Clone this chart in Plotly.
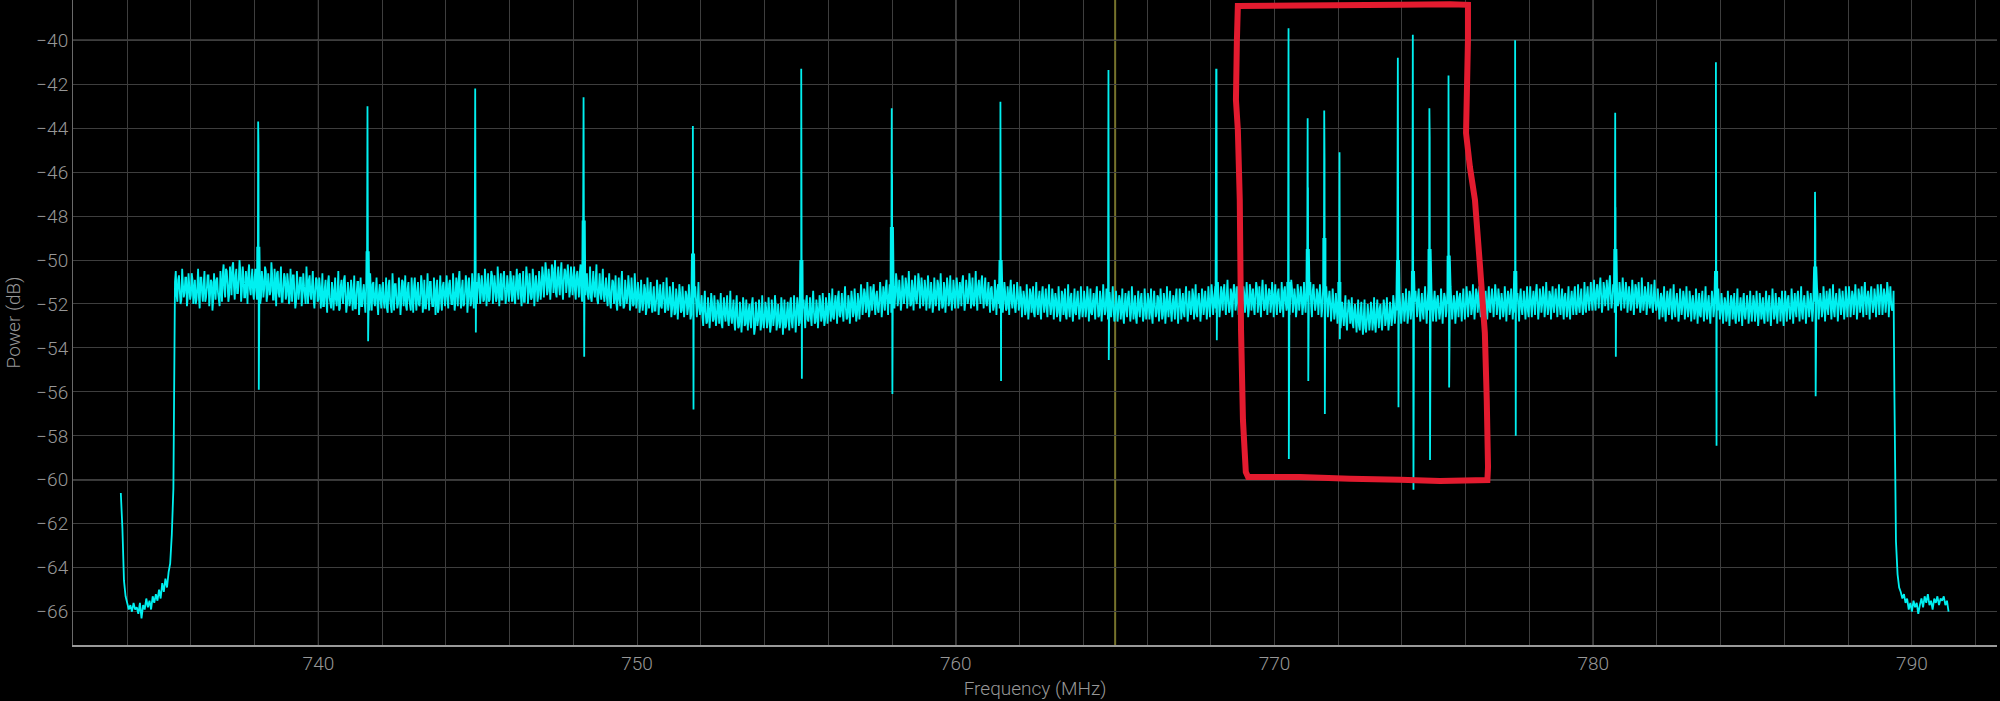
import plotly.graph_objects as go

# ---------------- data ----------------
skirt_step = 0.05
left_skirt_start = 733.80
left_skirt_db = [-60.6, -62.2, -64.6, -65.3, -65.6, -65.9, -65.7, -66.0, -65.6, -65.9,
                 -65.8, -66.1, -65.6, -66.3, -65.7, -65.9, -65.4, -65.8, -65.5, -65.9,
                 -65.3, -65.6, -65.2, -65.5, -65.0, -65.4, -64.7, -65.1, -64.5, -64.9,
                 -64.2, -63.8, -62.5, -60.4]

right_skirt_start = 789.45
right_skirt_db = [-56.0, -62.8, -64.3, -64.9, -65.1, -65.4, -65.2, -65.6, -65.4, -65.9,
                  -65.6, -66.0, -65.5, -65.8, -65.6, -66.1, -65.7, -65.4, -65.8, -65.3,
                  -65.6, -65.2, -65.7, -65.5, -65.9, -65.4, -65.6, -65.3, -65.7, -65.4,
                  -65.5, -65.3, -65.7, -65.5, -66.0]

# in-band noise, one value every 0.05 MHz from 735.50 MHz
band_start = 735.50
band_step = 0.05
band_db = [
    -51.0, -51.6, -50.9, -51.4, -51.8, -51.1, -51.5, -50.8, -51.7, -51.2,
    -51.6, -50.9, -51.4, -52.0, -51.2, -51.7, -50.8, -51.5, -51.1, -51.9, -51.3, -50.7, -51.6, -51.0, -51.8, -51.2, -50.9, -51.5, -52.1, -51.3,
    -50.6, -51.3, -50.4, -51.1, -51.6, -50.8, -50.3, -51.2, -50.7, -51.5, -50.9, -50.5, -51.4, -50.8, -51.7, -51.0, -50.6, -51.3, -50.9, -51.5,
    -50.8, -51.4, -50.6, -51.2, -51.7, -50.9, -51.3, -50.5, -51.6, -51.0, -51.4, -50.7, -51.8, -51.1, -50.6, -51.5, -51.0, -51.9, -51.2, -50.8,
    -51.6, -51.0, -51.8, -51.2, -50.7, -51.5, -51.9, -51.1, -51.4, -50.8, -51.7, -51.2, -52.0, -51.3, -50.9, -51.6, -51.1, -51.8, -51.4, -50.9,
    -51.8, -51.2, -51.6, -52.1, -51.3, -51.9, -51.0, -51.7, -52.2, -51.4, -51.1, -51.8, -51.5, -52.3, -51.2, -51.7, -50.9, -51.6, -52.0, -51.4,
    -51.9, -51.3, -51.7, -52.2, -51.5, -51.0, -51.8, -52.1, -51.4, -51.9, -51.2, -51.7, -52.3, -51.6, -51.1, -51.9, -51.4, -52.0, -51.5, -51.8,
    -51.3, -51.9, -51.6, -52.2, -51.2, -51.8, -52.4, -51.5, -51.1, -51.7, -52.0, -51.4, -51.9, -51.0, -51.6, -52.1, -51.3, -51.8, -52.3, -51.5,
    -51.2, -51.8, -51.4, -52.0, -51.6, -51.1, -51.9, -52.2, -51.5, -51.7, -51.0, -51.8, -52.1, -51.3, -51.6, -52.4, -51.4, -51.9, -51.2, -51.7,
    -51.3, -51.8, -51.1, -51.6, -52.0, -51.4, -51.9, -51.2, -50.9, -51.7, -51.3, -52.1, -51.5, -51.0, -51.8, -51.4, -51.9, -51.2, -51.6, -51.1,
    -51.5, -50.9, -51.6, -51.2, -51.8, -51.0, -51.4, -51.9, -51.1, -50.7, -51.5, -51.2, -51.7, -51.0, -51.4, -51.8, -50.8, -51.3, -51.6, -51.1,
    -51.5, -50.9, -51.3, -51.8, -51.0, -51.4, -50.7, -51.6, -51.2, -51.9, -51.1, -50.8, -51.5, -51.3, -51.7, -50.9, -51.4, -51.1, -51.6, -51.0,
    -51.3, -50.7, -51.1, -50.5, -51.4, -50.9, -51.2, -50.4, -51.0, -51.5, -50.8, -51.2, -50.6, -51.3, -50.9, -50.5, -51.1, -50.7, -51.4, -50.8,
    -50.9, -51.4, -50.7, -51.2, -50.6, -51.5, -51.0, -51.3, -50.8, -51.6, -51.2, -51.7, -51.1, -51.4, -50.9, -51.8, -51.3, -51.5, -51.0, -51.6,
    -51.3, -51.7, -51.2, -51.9, -51.4, -51.0, -51.6, -52.0, -51.5, -51.8, -51.1, -51.7, -52.1, -51.4, -51.6, -51.2, -51.9, -51.5, -52.0, -51.3,
    -51.8, -51.4, -52.1, -51.6, -51.9, -51.3, -52.2, -51.7, -51.5, -52.0, -51.6, -52.3, -51.8, -51.4, -51.9, -52.1, -51.5, -51.8, -52.2, -51.7,
    -52.0, -51.6, -52.2, -51.8, -52.4, -51.7, -52.1, -51.5, -52.3, -51.9, -52.0, -51.6, -52.2, -51.8, -52.5, -52.0, -51.7, -52.3, -51.9, -52.2,
    -52.1, -52.6, -52.0, -52.4, -52.8, -52.2, -52.5, -51.9, -52.7, -52.3, -52.6, -52.0, -52.4, -52.9, -52.2, -52.5, -52.1, -52.7, -52.3, -52.6,
    -52.3, -52.8, -52.2, -52.6, -53.0, -52.4, -52.7, -52.1, -52.9, -52.5, -52.3, -52.8, -52.0, -52.6, -53.1, -52.4, -52.7, -52.2, -52.9, -52.5,
    -52.7, -52.2, -52.8, -52.4, -53.0, -52.3, -52.6, -52.1, -52.9, -52.5, -52.8, -52.2, -52.6, -53.1, -52.4, -52.7, -52.0, -52.8, -52.5, -52.3,
    -52.6, -52.1, -52.5, -52.9, -52.2, -52.4, -51.9, -52.7, -52.3, -52.6, -52.0, -52.4, -52.8, -52.2, -52.5, -51.9, -52.6, -52.3, -52.7, -52.1,
    -52.4, -51.9, -52.3, -52.6, -52.0, -52.2, -51.7, -52.5, -52.1, -52.4, -51.8, -52.2, -52.6, -51.9, -52.3, -51.8, -52.4, -52.0, -52.5, -51.9,
    -52.1, -51.6, -52.0, -51.5, -52.2, -51.8, -52.3, -51.7, -51.4, -52.0, -51.6, -52.2, -51.9, -51.5, -52.1, -51.7, -51.3, -51.9, -51.6, -52.0,
    -51.7, -51.2, -51.6, -51.0, -51.8, -51.4, -51.9, -51.3, -51.6, -51.1, -51.7, -51.4, -52.0, -51.5, -51.2, -51.8, -51.4, -51.0, -51.6, -51.3,
    -51.8, -51.3, -51.7, -51.2, -51.9, -51.5, -52.0, -51.4, -51.7, -51.1, -51.8, -51.6, -52.1, -51.3, -51.7, -51.2, -51.9, -51.5, -51.8, -51.4,
    -51.7, -51.2, -51.8, -51.4, -51.0, -51.6, -51.9, -51.3, -51.7, -51.1, -51.5, -52.0, -51.4, -51.8, -51.2, -51.6, -51.0, -51.7, -51.3, -51.9,
    -51.5, -51.9, -51.3, -51.8, -52.1, -51.6, -51.4, -52.0, -51.7, -51.2, -51.9, -51.5, -52.2, -51.7, -51.4, -51.9, -51.6, -52.1, -51.8, -51.5,
    -52.1, -51.6, -52.0, -51.7, -52.3, -51.8, -52.2, -51.5, -51.9, -52.4, -51.7, -52.1, -51.8, -52.3, -51.6, -52.0, -51.8, -52.2, -51.7, -52.0,
    -52.2, -51.7, -52.1, -51.8, -52.4, -52.0, -52.3, -51.6, -52.1, -52.5, -51.9, -52.2, -51.7, -52.3, -52.0, -52.4, -51.8, -52.1, -52.3, -51.9,
    -52.3, -51.8, -52.2, -51.7, -52.1, -52.4, -51.9, -52.2, -51.6, -52.0, -52.5, -51.8, -52.2, -51.9, -52.3, -51.7, -52.1, -52.4, -51.9, -52.2,
    -52.4, -51.9, -52.3, -51.8, -52.2, -52.5, -52.0, -52.3, -51.7, -52.1, -52.4, -51.9, -52.2, -52.6, -52.0, -52.3, -51.8, -52.2, -52.5, -52.0,
    -52.3, -51.8, -52.2, -52.5, -51.9, -52.1, -52.4, -51.7, -52.2, -52.0, -52.5, -51.8, -52.3, -52.1, -51.9, -52.4, -52.0, -52.2, -51.7, -52.3,
    -52.2, -51.8, -52.1, -52.4, -51.7, -52.0, -52.3, -51.9, -52.2, -51.6, -52.1, -52.4, -51.8, -52.0, -52.3, -51.7, -52.1, -51.9, -52.2, -51.8,
    -52.0, -51.6, -51.9, -52.2, -51.5, -51.8, -52.1, -51.7, -51.4, -52.0, -51.6, -51.9, -52.2, -51.5, -51.8, -51.3, -52.0, -51.7, -52.1, -51.6,
    -51.9, -51.5, -52.0, -51.7, -52.2, -51.4, -51.8, -52.1, -51.6, -51.3, -51.9, -52.0, -51.5, -51.8, -52.2, -51.6, -51.9, -51.4, -52.0, -51.7,
    -51.6, -52.0, -51.5, -51.9, -52.2, -51.7, -51.4, -51.9, -52.1, -51.6, -51.8, -51.3, -52.0, -51.7, -52.2, -51.5, -51.9, -51.6, -52.1, -51.8,
    -51.5, -51.9, -51.6, -52.1, -51.4, -51.8, -52.0, -51.5, -51.9, -51.7, -52.2, -51.6, -51.9, -52.3, -51.8, -52.0, -52.2, -51.9, -52.4, -52.1,
    -52.3, -52.7, -52.1, -52.5, -52.2, -52.8, -52.4, -52.0, -52.6, -52.9, -52.3, -52.7, -52.5, -53.0, -52.4, -52.8, -52.6, -53.1, -52.7, -52.5,
    -52.8, -52.3, -52.7, -52.9, -52.4, -52.6, -52.2, -52.8, -52.5, -52.1, -52.7, -52.4, -52.8, -52.3, -52.6, -52.0, -52.5, -52.3, -52.6, -52.2,
    -52.4, -51.9, -52.3, -52.0, -52.5, -51.8, -52.2, -52.4, -51.9, -52.1, -51.7, -52.3, -52.0, -52.4, -51.8, -52.2, -51.9, -52.3, -52.0, -52.4,
    -51.9, -52.3, -51.8, -52.2, -52.4, -51.9, -52.1, -51.7, -52.3, -52.0, -52.4, -51.8, -52.2, -51.9, -52.3, -52.0, -51.7, -52.2, -51.9, -52.1,
    -52.1, -51.7, -52.0, -51.6, -52.2, -51.8, -52.1, -51.5, -51.9, -52.2, -51.7, -52.0, -51.6, -52.1, -51.8, -52.3, -51.7, -52.0, -51.8, -51.6,
    -52.1, -51.7, -52.2, -51.9, -52.3, -51.8, -52.0, -51.6, -52.2, -51.9, -52.1, -52.4, -51.8, -52.0, -51.7, -52.2, -51.9, -52.1, -51.8, -52.3,
    -51.7, -52.1, -51.8, -52.0, -51.5, -51.9, -52.2, -51.7, -52.0, -51.6, -52.1, -51.8, -52.2, -51.6, -51.9, -52.1, -51.7, -52.0, -51.8, -52.1,
    -51.8, -52.2, -51.7, -52.1, -51.9, -52.3, -51.8, -52.0, -51.6, -52.2, -51.9, -52.1, -51.7, -52.0, -52.2, -51.8, -51.6, -51.9, -51.7, -51.8,
    -51.5, -51.9, -51.4, -51.7, -51.2, -51.6, -51.9, -51.3, -51.7, -51.5, -51.1, -51.6, -51.8, -51.3, -51.7, -51.4, -51.9, -51.5, -51.7, -51.4,
    -51.8, -51.4, -51.9, -51.6, -52.0, -51.5, -51.8, -51.3, -51.9, -51.7, -52.1, -51.6, -51.9, -51.5, -52.0, -51.7, -51.8, -52.1, -51.6, -51.9,
    -52.1, -51.8, -52.2, -51.7, -52.0, -52.3, -51.9, -52.1, -51.6, -52.2, -51.9, -52.3, -51.8, -52.0, -52.4, -51.9, -52.1, -51.7, -52.2, -52.0,
    -52.3, -51.8, -52.2, -52.0, -52.4, -51.9, -52.1, -52.5, -51.8, -52.2, -52.0, -52.3, -51.9, -52.4, -52.1, -51.8, -52.2, -52.0, -52.3, -51.9,
    -52.4, -52.0, -52.3, -51.9, -52.5, -52.1, -52.3, -51.8, -52.2, -52.6, -52.0, -52.4, -52.1, -52.3, -51.9, -52.5, -52.2, -52.0, -52.4, -52.1,
    -52.3, -51.9, -52.4, -52.1, -52.5, -52.0, -52.2, -52.6, -52.0, -52.3, -51.9, -52.4, -52.2, -52.0, -52.5, -52.1, -52.3, -51.8, -52.2, -52.4,
    -52.0, -52.3, -51.8, -52.2, -52.4, -51.9, -52.1, -52.3, -51.7, -52.2, -52.0, -52.4, -51.9, -52.1, -52.3, -51.8, -52.2, -52.0, -52.3, -51.9,
    -52.2, -51.7, -52.1, -51.9, -52.3, -51.8, -52.0, -52.2, -51.6, -52.1, -51.9, -52.3, -51.8, -52.0, -52.2, -51.7, -52.1, -51.9, -52.2, -51.8,
    -52.0, -51.7, -52.1, -51.6, -52.0, -51.8, -52.2, -51.6, -51.9, -52.1, -51.5, -51.9, -51.7, -52.0, -51.6, -51.9, -52.1, -51.7, -51.9, -51.6,
    -51.9, -51.5, -52.0, -51.6, -51.9, -51.4, -51.8, -52.0, -52.2,
]

# noise excursions between those bins (at +0.025 MHz)
band_mid_db = [
    -50.5, -51.9, -50.7, -52.0, -50.4, -51.7, -50.8, -52.1, -50.6, -51.8,
    -50.6, -52.0, -50.9, -51.8, -50.4, -52.2, -50.8, -51.9, -50.5, -51.7, -50.7, -52.1, -50.9, -52.3, -50.6, -51.8, -50.8, -52.0, -50.5, -51.9,
    -50.2, -51.7, -50.5, -51.9, -50.3, -51.6, -50.1, -51.8, -50.4, -51.5, -50.0, -51.9, -50.3, -51.7, -50.5, -52.0, -50.2, -51.6, -50.4, -51.8,
    -50.4, -51.8, -50.2, -52.0, -50.5, -51.7, -50.3, -51.9, -50.6, -51.6, -50.1, -51.8, -50.4, -52.1, -50.5, -51.7, -50.3, -51.9, -50.6, -51.8,
    -50.6, -52.0, -50.4, -51.9, -50.7, -52.2, -50.5, -51.8, -50.8, -52.1, -50.6, -51.9, -50.3, -52.0, -50.7, -51.8, -50.5, -52.2, -50.8, -51.9,
    -50.8, -52.2, -50.6, -52.1, -50.9, -52.4, -50.7, -52.0, -51.0, -52.3, -50.8, -52.1, -50.5, -52.2, -50.9, -52.0, -50.7, -52.4, -51.0, -52.1,
    -50.9, -52.3, -50.7, -52.2, -51.0, -52.5, -50.8, -52.1, -51.1, -52.4, -50.9, -52.2, -50.6, -52.3, -51.0, -52.1, -50.8, -52.5, -51.1, -52.2,
    -51.0, -52.2, -50.8, -52.4, -50.9, -52.1, -50.6, -52.3, -51.1, -52.2, -50.8, -52.5, -50.9, -52.1, -50.7, -52.3, -51.0, -52.2, -50.8, -52.4,
    -50.8, -52.3, -51.0, -52.1, -50.7, -52.4, -50.9, -52.2, -50.6, -52.3, -51.0, -52.1, -50.8, -52.5, -50.9, -52.2, -50.7, -52.3, -51.0, -52.1,
    -50.7, -52.2, -50.9, -52.0, -50.6, -52.3, -50.8, -52.1, -50.5, -52.2, -50.9, -52.0, -50.7, -52.4, -50.8, -52.1, -50.6, -52.2, -50.9, -52.0,
    -50.6, -52.0, -50.7, -51.9, -50.4, -52.1, -50.6, -51.8, -50.5, -52.0, -50.7, -51.9, -50.3, -52.1, -50.6, -51.8, -50.5, -52.0, -50.7, -51.9,
    -50.5, -51.9, -50.7, -52.0, -50.4, -51.8, -50.6, -52.1, -50.5, -51.9, -50.3, -52.0, -50.6, -51.8, -50.4, -52.1, -50.7, -51.9, -50.5, -51.8,
    -50.3, -51.7, -50.1, -51.6, -50.4, -51.8, -50.2, -51.5, -50.0, -51.7, -50.3, -51.6, -50.1, -51.8, -50.4, -51.5, -50.2, -51.7, -50.3, -51.6,
    -50.3, -51.8, -50.5, -51.7, -50.2, -51.9, -50.4, -51.6, -50.6, -51.8, -50.3, -51.9, -50.5, -51.7, -50.2, -52.0, -50.6, -51.8, -50.4, -51.9,
    -50.8, -52.1, -50.6, -52.2, -50.9, -52.0, -50.7, -52.3, -50.8, -52.1, -50.5, -52.2, -50.9, -52.0, -50.7, -52.3, -50.8, -52.1, -50.6, -52.2,
    -51.0, -52.4, -50.9, -52.3, -51.1, -52.5, -50.8, -52.2, -51.0, -52.4, -51.2, -52.3, -50.9, -52.5, -51.1, -52.2, -51.0, -52.4, -50.8, -52.3,
    -51.2, -52.6, -51.0, -52.5, -51.3, -52.7, -51.1, -52.4, -51.2, -52.6, -51.4, -52.5, -51.1, -52.7, -51.3, -52.4, -51.2, -52.6, -51.0, -52.5,
    -51.6, -53.0, -51.4, -52.9, -51.7, -53.1, -51.5, -52.8, -51.6, -53.0, -51.8, -52.9, -51.5, -53.1, -51.7, -52.8, -51.6, -53.0, -51.4, -52.9,
    -51.8, -53.2, -51.6, -53.1, -51.9, -53.3, -51.7, -53.0, -51.8, -53.2, -52.0, -53.1, -51.7, -53.4, -51.9, -53.0, -51.8, -53.2, -51.6, -53.1,
    -51.9, -53.1, -51.7, -53.3, -51.8, -53.0, -51.6, -53.2, -52.0, -53.1, -51.7, -53.4, -51.8, -53.0, -51.9, -53.2, -51.7, -53.1, -51.6, -53.3,
    -51.7, -53.0, -51.5, -52.9, -51.8, -53.1, -51.6, -52.8, -51.7, -53.0, -51.4, -52.9, -51.8, -53.1, -51.6, -52.8, -51.5, -53.0, -51.7, -52.9,
    -51.5, -52.8, -51.3, -52.7, -51.6, -52.9, -51.4, -52.6, -51.5, -52.8, -51.2, -52.7, -51.6, -52.9, -51.4, -52.6, -51.3, -52.8, -51.5, -52.7,
    -51.1, -52.5, -51.3, -52.4, -51.0, -52.6, -51.2, -52.3, -51.1, -52.5, -51.4, -52.4, -51.0, -52.6, -51.2, -52.3, -50.9, -52.5, -51.1, -52.4,
    -50.8, -52.2, -50.6, -52.1, -50.9, -52.3, -50.7, -52.0, -50.8, -52.2, -50.5, -52.1, -50.9, -52.3, -50.7, -52.0, -50.6, -52.2, -50.8, -52.1,
    -50.9, -52.3, -50.7, -52.2, -51.0, -52.4, -50.8, -52.1, -50.9, -52.3, -50.6, -52.2, -51.0, -52.4, -50.8, -52.1, -50.7, -52.3, -50.9, -52.2,
    -50.8, -52.2, -51.0, -52.1, -50.7, -52.3, -50.9, -52.0, -50.6, -52.2, -50.8, -52.1, -50.5, -52.3, -50.9, -52.0, -50.7, -52.2, -50.8, -52.1,
    -51.0, -52.4, -51.2, -52.3, -50.9, -52.5, -51.1, -52.2, -50.8, -52.4, -51.0, -52.3, -51.2, -52.5, -50.9, -52.2, -51.1, -52.4, -51.0, -52.3,
    -51.2, -52.6, -51.4, -52.5, -51.1, -52.7, -51.3, -52.4, -51.2, -52.6, -51.0, -52.5, -51.4, -52.7, -51.2, -52.4, -51.3, -52.6, -51.1, -52.5,
    -51.3, -52.7, -51.5, -52.6, -51.2, -52.8, -51.4, -52.5, -51.3, -52.7, -51.1, -52.6, -51.5, -52.8, -51.3, -52.5, -51.4, -52.7, -51.2, -52.6,
    -51.4, -52.6, -51.2, -52.8, -51.3, -52.5, -51.5, -52.7, -51.2, -52.6, -51.4, -52.8, -51.1, -52.5, -51.3, -52.7, -51.5, -52.6, -51.2, -52.8,
    -51.4, -52.8, -51.6, -52.7, -51.3, -52.9, -51.5, -52.6, -51.4, -52.8, -51.2, -52.7, -51.6, -52.9, -51.4, -52.6, -51.5, -52.8, -51.3, -52.7,
    -51.5, -52.7, -51.3, -52.9, -51.4, -52.6, -51.6, -52.8, -51.3, -52.7, -51.5, -52.9, -51.2, -52.6, -51.4, -52.8, -51.6, -52.7, -51.3, -52.9,
    -51.3, -52.7, -51.5, -52.6, -51.2, -52.8, -51.4, -52.5, -51.3, -52.7, -51.1, -52.6, -51.5, -52.8, -51.3, -52.5, -51.4, -52.7, -51.2, -52.6,
    -51.1, -52.5, -51.3, -52.4, -51.0, -52.6, -51.2, -52.3, -51.1, -52.5, -50.9, -52.4, -51.3, -52.6, -51.1, -52.3, -51.2, -52.5, -51.0, -52.4,
    -51.2, -52.4, -51.0, -52.6, -51.1, -52.3, -51.3, -52.5, -51.0, -52.4, -51.2, -52.6, -50.9, -52.3, -51.1, -52.5, -51.3, -52.4, -51.0, -52.6,
    -51.1, -52.5, -51.3, -52.4, -51.0, -52.6, -51.2, -52.3, -51.1, -52.5, -50.9, -52.4, -51.3, -52.6, -51.1, -52.3, -51.2, -52.5, -51.0, -52.4,
    -51.2, -52.4, -51.0, -52.6, -51.1, -52.3, -51.3, -52.5, -51.1, -52.6, -51.3, -52.7, -51.2, -52.6, -51.4, -52.8, -51.3, -52.7, -51.5, -52.9,
    -51.7, -53.1, -51.9, -53.0, -51.6, -53.2, -51.8, -52.9, -51.7, -53.1, -52.0, -53.3, -51.8, -53.2, -51.9, -53.4, -51.8, -53.3, -52.0, -53.2,
    -51.9, -53.2, -51.7, -53.3, -51.8, -53.1, -52.0, -53.2, -51.8, -53.0, -51.7, -53.2, -51.9, -53.0, -51.6, -52.9, -51.7, -53.1, -51.5, -52.9,
    -51.5, -52.8, -51.3, -52.9, -51.4, -52.7, -51.6, -52.8, -51.4, -52.6, -51.3, -52.8, -51.5, -52.7, -51.2, -52.9, -51.4, -52.7, -51.3, -52.8,
    -51.4, -52.8, -51.6, -52.7, -51.3, -52.9, -51.5, -52.6, -51.4, -52.8, -51.2, -52.7, -51.6, -52.9, -51.4, -52.6, -51.5, -52.8, -51.3, -52.7,
    -51.2, -52.6, -51.4, -52.5, -51.1, -52.7, -51.3, -52.4, -51.2, -52.6, -51.0, -52.5, -51.4, -52.7, -51.2, -52.4, -51.3, -52.6, -51.1, -52.5,
    -51.3, -52.7, -51.5, -52.6, -51.2, -52.8, -51.4, -52.5, -51.3, -52.7, -51.1, -52.6, -51.5, -52.8, -51.3, -52.5, -51.4, -52.7, -51.2, -52.6,
    -51.2, -52.6, -51.4, -52.5, -51.1, -52.7, -51.3, -52.4, -51.2, -52.6, -51.0, -52.5, -51.4, -52.7, -51.2, -52.4, -51.3, -52.6, -51.1, -52.5,
    -51.3, -52.7, -51.5, -52.6, -51.2, -52.7, -51.4, -52.5, -51.2, -52.5, -51.1, -52.4, -51.3, -52.5, -51.0, -52.4, -51.2, -52.3, -51.0, -52.3,
    -50.9, -52.3, -51.1, -52.2, -50.8, -52.4, -51.0, -52.1, -50.9, -52.3, -50.7, -52.2, -51.1, -52.4, -50.9, -52.1, -51.0, -52.3, -50.8, -52.2,
    -51.0, -52.4, -51.2, -52.3, -50.9, -52.5, -51.1, -52.2, -51.0, -52.4, -50.8, -52.3, -51.2, -52.5, -51.0, -52.2, -51.1, -52.4, -50.9, -52.3,
    -51.3, -52.7, -51.5, -52.6, -51.2, -52.8, -51.4, -52.5, -51.3, -52.7, -51.1, -52.6, -51.5, -52.8, -51.3, -52.5, -51.4, -52.7, -51.2, -52.6,
    -51.4, -52.8, -51.6, -52.7, -51.3, -52.9, -51.5, -52.6, -51.4, -52.8, -51.2, -52.7, -51.6, -52.9, -51.4, -52.6, -51.5, -52.8, -51.3, -52.7,
    -51.5, -52.9, -51.7, -52.8, -51.4, -53.0, -51.6, -52.7, -51.5, -52.9, -51.3, -52.8, -51.7, -53.0, -51.5, -52.7, -51.6, -52.9, -51.4, -52.8,
    -51.6, -52.8, -51.4, -53.0, -51.5, -52.7, -51.7, -52.9, -51.4, -52.8, -51.6, -53.0, -51.3, -52.7, -51.5, -52.9, -51.7, -52.8, -51.4, -53.0,
    -51.4, -52.8, -51.6, -52.7, -51.3, -52.9, -51.5, -52.6, -51.4, -52.8, -51.2, -52.7, -51.6, -52.9, -51.4, -52.6, -51.5, -52.8, -51.3, -52.7,
    -51.3, -52.7, -51.5, -52.6, -51.2, -52.8, -51.4, -52.5, -51.3, -52.7, -51.1, -52.6, -51.5, -52.8, -51.3, -52.5, -51.4, -52.7, -51.2, -52.6,
    -51.2, -52.6, -51.4, -52.5, -51.1, -52.7, -51.3, -52.4, -51.2, -52.6, -51.0, -52.5, -51.4, -52.7, -51.2, -52.4, -51.3, -52.6, -51.1, -52.5,
    -51.1, -52.5, -51.3, -52.4, -51.0, -52.6, -51.2, -52.3, -51.4,
]

# narrow carriers: frequency (MHz), peak, second peak, shoulder and lowest dip (dB)
spike_freq = [738.11, 741.54, 744.92, 748.32, 751.75, 755.15, 757.99, 761.40, 764.78, 768.17, 770.43,
              771.04, 771.56, 772.03, 773.87, 774.34, 774.86, 775.46, 777.55, 780.69, 783.85, 786.96]
spike_top = [-43.7, -43.0, -42.2, -42.6, -43.9, -41.3, -43.1, -42.8, -41.35, -41.3, -39.45,
             -43.55, -43.2, -45.1, -40.8, -39.75, -43.1, -41.6, -40.0, -43.3, -41.0, -46.9]
spike_second = [-44.8, -45.6, -42.2, -46.2, -47.1, -50.0, -46.1, -46.7, -41.35, -41.3, -39.45,
                -46.7, -45.4, -45.1, -40.8, -39.75, -44.4, -48.6, -50.0, -47.6, -46.7, -48.6]
spike_shoulder = [-49.4, -49.6, -51.0, -48.2, -49.7, -50.0, -48.5, -50.0, -51.5, -51.2, -51.0,
                  -49.5, -49.0, -51.0, -50.0, -50.5, -49.5, -49.8, -50.5, -49.5, -50.5, -50.3]
spike_bottom = [-55.9, -53.7, -53.3, -54.4, -56.8, -55.4, -56.1, -55.5, -54.55, -53.65, -59.05,
                -55.5, -57.0, -53.6, -56.7, -60.45, -59.1, -55.8, -58.0, -54.4, -58.45, -56.2]

marker_freq = [765.0]

x_grid = [734, 736, 738, 740, 742, 744, 746, 748, 750, 752, 754, 756, 758, 760, 762, 764, 766,
          768, 770, 772, 774, 776, 778, 780, 782, 784, 786, 788, 790, 792]
x_labels = [740, 750, 760, 770, 780, 790]
x_major = [740, 760, 780]
y_grid = [-66, -64, -62, -60, -58, -56, -54, -52, -50, -48, -46, -44, -42, -40]
y_major = [-40, -60]

# hand-drawn highlight outline (MHz, dB)
outline_f = [768.85, 770.80, 773.94, 775.51, 776.07, 776.07, 776.01, 776.13, 776.29, 776.45, 776.60,
             776.66, 776.70, 776.68, 775.19, 773.94, 772.37, 770.80, 769.17, 769.10, 769.01, 768.95,
             768.91, 768.85, 768.79, 768.82]
outline_db = [-38.44, -38.42, -38.39, -38.36, -38.39, -40.0, -44.22, -45.76, -47.27, -50.32, -53.32,
              -56.37, -59.42, -60.01, -60.05, -60.0, -59.95, -59.87, -59.87, -59.65, -57.28, -53.18,
              -47.27, -44.08, -42.72, -40.0]

assert len(band_db) == 1079, len(band_db)
assert len(band_mid_db) == 1079, len(band_mid_db)

# ---------------- assemble trace ----------------
pts = []
for i, v in enumerate(left_skirt_db):
    pts.append((round(left_skirt_start + i * skirt_step, 4), v))
for i, v in enumerate(band_db):
    pts.append((round(band_start + i * band_step, 4), v))
for i, v in enumerate(band_mid_db):
    pts.append((round(band_start + band_step / 2 + i * band_step, 4), v))
for i, v in enumerate(right_skirt_db):
    pts.append((round(right_skirt_start + i * skirt_step, 4), v))
for f, top, sec, sh, bot in zip(spike_freq, spike_top, spike_second, spike_shoulder, spike_bottom):
    pts += [(f - 0.03, sh), (f, top), (f + 0.01, sec), (f + 0.02, bot), (f + 0.04, sh)]
pts.sort(key=lambda p: p[0])
freq = [p[0] for p in pts]
power = [p[1] for p in pts]

FONT = dict(family="Roboto", size=19, color="#979797", weight=300)

fig = go.Figure()
fig.add_trace(go.Scatter(x=freq, y=power, mode="lines",
                         line=dict(color="#00f0f0", width=1.8), hoverinfo="skip"))

shapes = []
for xv in x_major:
    shapes.append(dict(type="line", xref="x", yref="paper", x0=xv, x1=xv, y0=0, y1=1,
                       line=dict(color="#b4b4b4", width=1), layer="between"))
for yv in y_major:
    shapes.append(dict(type="line", xref="paper", yref="y", x0=0, x1=1, y0=yv, y1=yv,
                       line=dict(color="#b4b4b4", width=1), layer="between"))
for xv in marker_freq:
    shapes.append(dict(type="line", xref="x", yref="paper", x0=xv, x1=xv, y0=0, y1=1,
                       line=dict(color="#76732c", width=2), layer="between"))
path = "M " + " L ".join(f"{a},{b}" for a, b in zip(outline_f, outline_db)) + " Z"
shapes.append(dict(type="path", xref="x", yref="y", path=path,
                   line=dict(color="#e31b2f", width=6), layer="above"))

fig.update_layout(
    width=2000, height=701,
    margin=dict(l=73, r=3, t=0, b=56),
    paper_bgcolor="black", plot_bgcolor="black",
    font=FONT, showlegend=False, shapes=shapes,
    xaxis=dict(range=[732.30, 792.67], tickmode="array", tickvals=x_grid,
               ticktext=[str(v) if v in x_labels else "" for v in x_grid],
               showgrid=True, gridcolor="#3e3e3e", gridwidth=1, zeroline=False,
               showline=True, linecolor="#9a9a9a", linewidth=2, ticks="",
               tickfont=FONT, title=dict(text="Frequency (MHz)", font=FONT, standoff=8)),
    yaxis=dict(range=[-67.515, -38.17], tickmode="array", tickvals=y_grid,
               showgrid=True, gridcolor="#3e3e3e", gridwidth=1, zeroline=False,
               showline=True, linecolor="#6a6a6a", linewidth=1, ticks="",
               tickfont=FONT, title=dict(text="Power (dB)", font=FONT, standoff=10)),
)

fig.write_html("out.html", config={"displayModeBar": False},
               post_script="document.body.style.margin='0';document.body.style.overflow='hidden';")
